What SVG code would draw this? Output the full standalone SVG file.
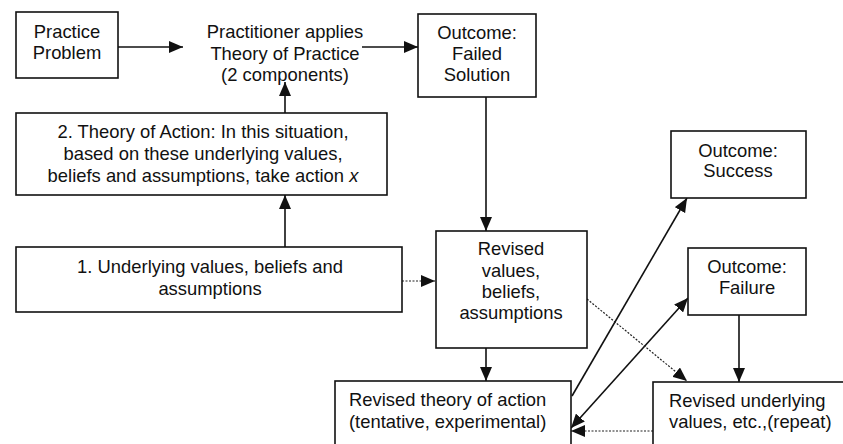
<svg xmlns="http://www.w3.org/2000/svg" width="843" height="444" viewBox="0 0 843 444">
<style>
.box{fill:#fff;stroke:#111;stroke-width:1.6}
text{font-family:"Liberation Sans",Arial,sans-serif;font-size:18.4px;fill:#111}
.c{text-anchor:middle}
.ln{stroke:#111;stroke-width:1.6;fill:none}
.dot{stroke:#222;stroke-width:1.2;fill:none;stroke-dasharray:2 1.5}
</style>
<defs>
<marker id="ah" markerUnits="userSpaceOnUse" markerWidth="14" markerHeight="12" viewBox="0 0 14 12" refX="14" refY="6" orient="auto-start-reverse">
<path d="M0,0 L14,6 L0,12 Z" fill="#111"/>
</marker>
</defs>
<rect width="843" height="444" fill="#fff"/>
<g id="connectors">
<line class="ln" x1="118" y1="47" x2="183" y2="47" marker-end="url(#ah)"/>
<line class="ln" x1="362" y1="47" x2="418" y2="47" marker-end="url(#ah)"/>
<line class="ln" x1="285" y1="113" x2="285" y2="82" marker-end="url(#ah)"/>
<line class="ln" x1="285" y1="247" x2="285" y2="195" marker-end="url(#ah)"/>
<line class="ln" x1="486" y1="97" x2="486" y2="231" marker-end="url(#ah)"/>
<line class="dot" x1="402" y1="281" x2="435" y2="281" marker-end="url(#ah)"/>
<line class="ln" x1="486" y1="348" x2="486" y2="381" marker-end="url(#ah)"/>
<line class="ln" x1="572" y1="396" x2="687" y2="198" marker-end="url(#ah)"/>
<line class="ln" x1="571" y1="428" x2="688" y2="298" marker-start="url(#ah)" marker-end="url(#ah)"/>
<line class="ln" x1="739" y1="315" x2="739" y2="382" marker-end="url(#ah)"/>
<line class="dot" x1="587" y1="299" x2="687" y2="381" marker-end="url(#ah)"/>
<line class="dot" x1="653" y1="431" x2="571" y2="431" marker-end="url(#ah)"/>
</g>
<g id="practice-problem">
<rect class="box" x="16" y="12" width="102" height="66"/>
<text class="c" x="67" y="38">Practice</text>
<text class="c" x="67" y="59">Problem</text>
</g>
<g id="practitioner">
<text class="c" x="285" y="38">Practitioner applies</text>
<text class="c" x="285" y="60">Theory of Practice</text>
<text class="c" x="285" y="81">(2 components)</text>
</g>
<g id="outcome-failed">
<rect class="box" x="418" y="14" width="118" height="83"/>
<text class="c" x="477" y="39">Outcome:</text>
<text class="c" x="477" y="60">Failed</text>
<text class="c" x="477" y="81">Solution</text>
</g>
<g id="theory-of-action">
<rect class="box" x="16" y="113" width="371" height="82"/>
<text class="c" x="203" y="138">2. Theory of Action: In this situation,</text>
<text class="c" x="203" y="160">based on these underlying values,</text>
<text class="c" x="203" y="182">beliefs and assumptions, take action <tspan font-style="italic">x</tspan></text>
</g>
<g id="underlying-values">
<rect class="box" x="16" y="247" width="386" height="65"/>
<text class="c" x="210" y="273">1. Underlying values, beliefs and</text>
<text class="c" x="210" y="295">assumptions</text>
</g>
<g id="revised-values">
<rect class="box" x="436" y="231" width="151" height="117"/>
<text class="c" x="511" y="255">Revised</text>
<text class="c" x="511" y="277">values,</text>
<text class="c" x="511" y="298">beliefs,</text>
<text class="c" x="511" y="319">assumptions</text>
</g>
<g id="outcome-success">
<rect class="box" x="671" y="131" width="135" height="67"/>
<text class="c" x="738" y="157">Outcome:</text>
<text class="c" x="738" y="177">Success</text>
</g>
<g id="outcome-failure">
<rect class="box" x="688" y="248" width="118" height="67"/>
<text class="c" x="747" y="273">Outcome:</text>
<text class="c" x="747" y="294">Failure</text>
</g>
<g id="revised-theory">
<rect class="box" x="335" y="381" width="236" height="80"/>
<text x="349" y="406">Revised theory of action</text>
<text x="349" y="428">(tentative, experimental)</text>
</g>
<g id="revised-underlying">
<rect class="box" x="653" y="382" width="210" height="80"/>
<text x="669" y="407">Revised underlying</text>
<text x="669" y="428">values, etc.,(repeat)</text>
</g>
</svg>
